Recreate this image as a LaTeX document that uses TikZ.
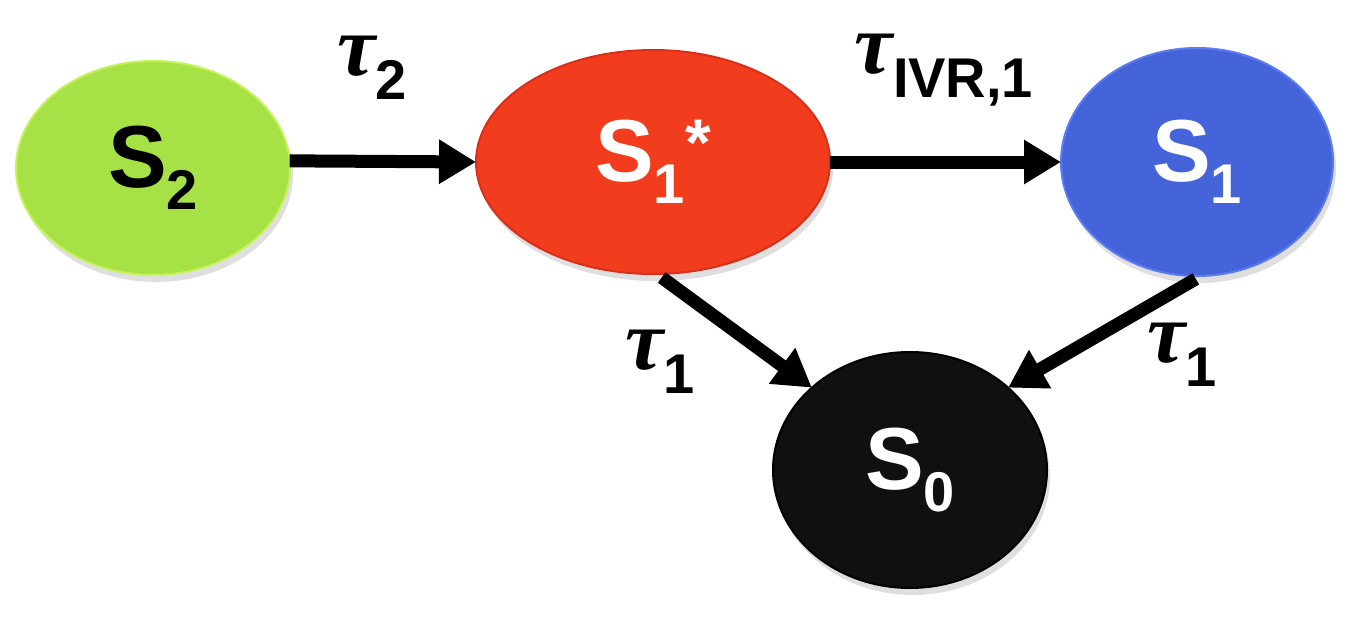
\documentclass[tikz,border=0pt]{standalone}
\usepackage{fontspec}
\setmainfont{Liberation Sans}
\newfontfamily\taufont{Liberation Serif}
\usetikzlibrary{shapes.geometric,arrows.meta,shadows}
\definecolor{sgreen}{HTML}{A6E146}
\definecolor{sgreenb}{HTML}{C6F25C}
\definecolor{sred}{HTML}{F23C1E}
\definecolor{sredb}{HTML}{D83018}
\definecolor{sblue}{HTML}{4664DA}
\definecolor{sblueb}{HTML}{5A7CF0}
\definecolor{sblack}{HTML}{101010}
\newcommand{\bigS}{\fontsize{88}{88}\selectfont\bfseries S}
\newcommand{\subtxt}[1]{\raisebox{-22pt}{\fontsize{56}{56}\selectfont\bfseries #1}}
\newcommand{\tausym}{{\taufont\bfseries\itshape\fontsize{86}{86}\selectfont τ}}
\newcommand{\tausub}[1]{\raisebox{-24pt}{\fontsize{56}{56}\selectfont\bfseries #1}}
\begin{document}
\begin{tikzpicture}[x=1pt,y=-1pt,
  state/.style={ellipse,inner sep=0pt,outer sep=0pt,line width=2pt,
    drop shadow={opacity=0.25,shadow xshift=3pt,shadow yshift=-7pt}},
  arr/.style={line width=13pt,-{Triangle[length=37pt,width=42pt]}},
  lbl/.style={inner sep=0pt,anchor=center}]
\useasboundingbox (0,0) rectangle (1357,637);
\node[state,fill=sgreen,draw=sgreenb,minimum width=274pt,minimum height=214pt] (S2) at (153,168)
  {\bigS\subtxt{2}};
\node[state,fill=sred,draw=sredb,minimum width=354pt,minimum height=224pt,text=white] (S1s) at (653,162)
  {\bigS\subtxt{1}\raisebox{16pt}{\fontsize{66}{66}\selectfont\bfseries *}};
\node[state,fill=sblue,draw=sblueb,minimum width=272pt,minimum height=228pt,text=white] (S1) at (1197,162)
  {\bigS\subtxt{1}};
\node[state,fill=sblack,draw=black,minimum width=274pt,minimum height=236pt,text=white] (S0) at (910,470)
  {\bigS\subtxt{0}};
\draw[arr] (S2.3) -- (S1s.west);
\draw[arr] (S1s.east) -- (S1.west);
\draw[arr,shorten <=6pt] (S1s.272) -- (S0.140);
\draw[arr,shorten <=6pt] (S1.272) -- (S0.40);
\node[lbl] (t2) at (372,68) {\tausym\tausub{2}};
\node[lbl] (tivr) at (944,70) {\tausym\tausub{IVR,1}};
\node[lbl] (t1a) at (660,362) {\tausym\tausub{1}};
\node[lbl] (t1b) at (1182,355) {\tausym\tausub{1}};
\end{tikzpicture}
\end{document}
